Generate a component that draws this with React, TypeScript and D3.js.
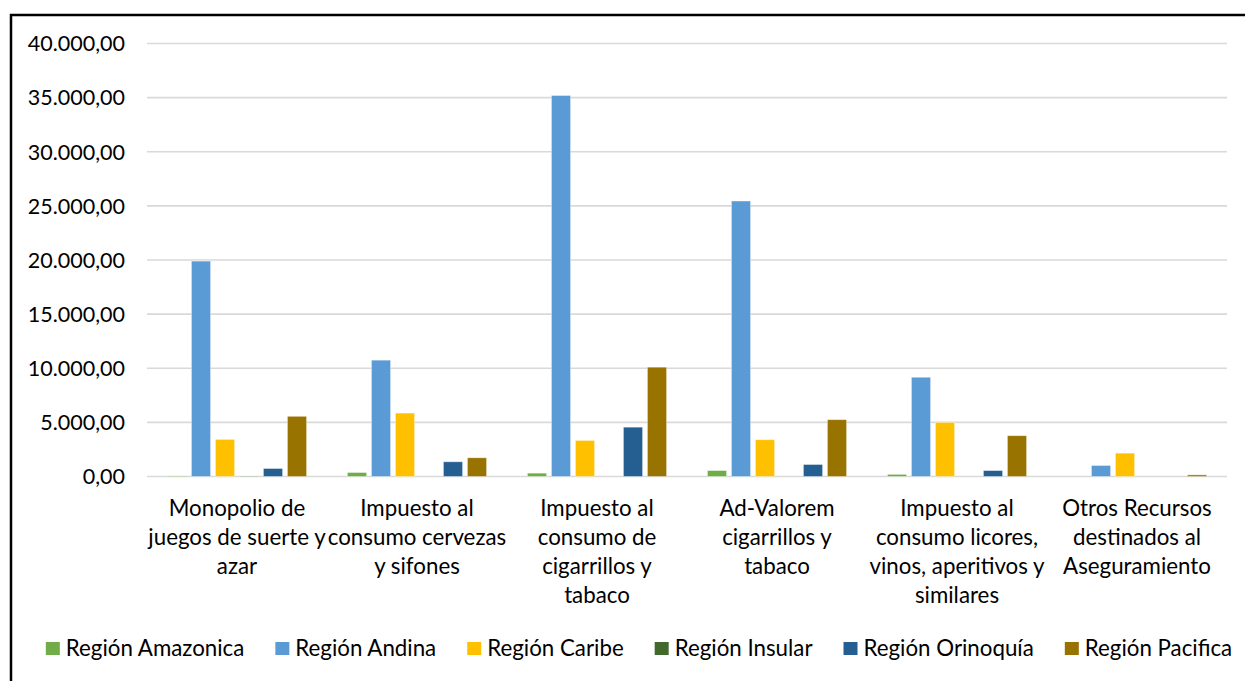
import React, { useEffect, useRef } from "react";
import * as d3 from "d3";

const categories = [
  "Monopolio de juegos de suerte y azar",
  "Impuesto al consumo cervezas y sifones",
  "Impuesto al consumo de cigarrillos y tabaco",
  "Ad-Valorem cigarrillos y tabaco",
  "Impuesto al consumo licores, vinos, aperitivos y similares",
  "Otros Recursos destinados al Aseguramiento",
];

// wrapped the way the original axis shows them
const categoryLines = [
  ["Monopolio de", "juegos de suerte y", "azar"],
  ["Impuesto al", "consumo cervezas", "y sifones"],
  ["Impuesto al", "consumo de", "cigarrillos y", "tabaco"],
  ["Ad-Valorem", "cigarrillos y", "tabaco"],
  ["Impuesto al", "consumo licores,", "vinos, aperitivos y", "similares"],
  ["Otros Recursos", "destinados al", "Aseguramiento"],
];

const seriesNames = [
  "Región Amazonica",
  "Región Andina",
  "Región Caribe",
  "Región Insular",
  "Región Orinoquía",
  "Región Pacifica",
];

const amazonica = [50, 370, 310, 550, 200, 0];
const andina = [19900, 10750, 35200, 25450, 9170, 1020];
const caribe = [3430, 5860, 3330, 3400, 5000, 2160];
const insular = [30, 0, 0, 0, 0, 0];
const orinoquia = [740, 1360, 4560, 1110, 550, 0];
const pacifica = [5560, 1730, 10100, 5250, 3770, 150];

const yTicks = [0, 5000, 10000, 15000, 20000, 25000, 30000, 35000, 40000];

const colors = ["#70AD47", "#5B9BD5", "#FFC000", "#43682B", "#255E91", "#997300"];

const W = 1245;
const H = 681;
const FONT = "Lato, 'Open Sans', sans-serif";
const FS = 22.3;
const TICK_FS = 21.5;
const LEGEND_GAP = 31;

const esFormat = d3.formatLocale({
  decimal: ",",
  thousands: ".",
  grouping: [3],
  currency: ["", ""],
}).format(",.2f");

export default function App() {
  const svgRef = useRef<SVGSVGElement>(null);

  useEffect(() => {
    const svg = d3.select(svgRef.current);
    svg.selectAll("*").remove();

    const values = [amazonica, andina, caribe, insular, orinoquia, pacifica];
    const plot = { left: 147, right: 1227, top: 43.5, bottom: 476.5 };

    // outer frame (only top and left edges fall inside the picture)
    svg.append("rect")
      .attr("x", 11)
      .attr("y", 15)
      .attr("width", W + 40)
      .attr("height", H + 40)
      .attr("fill", "none")
      .attr("stroke", "#000")
      .attr("stroke-width", 2.5);

    const x0 = d3.scaleBand<string>()
      .domain(categories)
      .range([plot.left, plot.right]);

    const x1 = d3.scaleBand<string>()
      .domain(seriesNames)
      .range([x0.bandwidth() * 0.1, x0.bandwidth() * 0.9])
      .paddingInner(0.2)
      .paddingOuter(0.1);

    const y = d3.scaleLinear()
      .domain([0, 40000])
      .range([plot.bottom, plot.top]);

    // gridlines
    svg.append("g")
      .selectAll("line")
      .data(yTicks)
      .join("line")
      .attr("x1", plot.left)
      .attr("x2", plot.right)
      .attr("y1", d => y(d))
      .attr("y2", d => y(d))
      .attr("stroke", "#d9d9d9")
      .attr("stroke-width", 1.6);

    // y tick labels
    svg.append("g")
      .selectAll("text")
      .data(yTicks)
      .join("text")
      .attr("x", 125)
      .attr("y", d => y(d) + 7.8)
      .attr("text-anchor", "end")
      .style("font-family", FONT)
      .style("font-size", `${TICK_FS}px`)
      .attr("fill", "#000")
      .text(d => esFormat(d));

    // bars
    seriesNames.forEach((name, si) => {
      svg.append("g")
        .selectAll("rect")
        .data(values[si])
        .join("rect")
        .attr("x", (_, i) => (x0(categories[i]) as number) + (x1(name) as number))
        .attr("width", x1.bandwidth())
        .attr("y", d => y(d))
        .attr("height", d => y(0) - y(d))
        .attr("fill", colors[si])
        .attr("stroke", "#ffffff")
        .attr("stroke-opacity", 0.5)
        .attr("stroke-width", 0.8);
    });

    // category labels
    const cat = svg.append("g");
    categories.forEach((c, i) => {
      const cx = (x0(c) as number) + x0.bandwidth() / 2;
      const t = cat.append("text")
        .attr("text-anchor", "middle")
        .style("font-family", FONT)
        .style("font-size", `${FS}px`)
        .attr("fill", "#000");
      categoryLines[i].forEach((line, li) => {
        t.append("tspan")
          .attr("x", cx)
          .attr("y", 515.5 + li * 29)
          .text(line);
      });
    });

    // legend
    const legend = svg.append("g");
    let cursor = 0;
    seriesNames.forEach((name, si) => {
      const item = legend.append("g").attr("transform", `translate(${cursor},0)`);
      item.append("rect")
        .attr("x", 0)
        .attr("y", 642)
        .attr("width", 14)
        .attr("height", 13)
        .attr("fill", colors[si]);
      const txt = item.append("text")
        .attr("x", 20)
        .attr("y", 655.5)
        .style("font-family", FONT)
        .style("font-size", `${FS}px`)
        .attr("fill", "#000")
        .text(name);
      const w = (txt.node() as SVGTextElement).getComputedTextLength();
      cursor += 20 + w + LEGEND_GAP;
    });
    const total = cursor - LEGEND_GAP;
    legend.attr("transform", `translate(${639 - total / 2},0)`);
  }, []);

  return (
    <svg
      ref={svgRef}
      width={W}
      height={H}
      style={{ position: "absolute", left: 0, top: 0, background: "#fff" }}
    />
  );
}
